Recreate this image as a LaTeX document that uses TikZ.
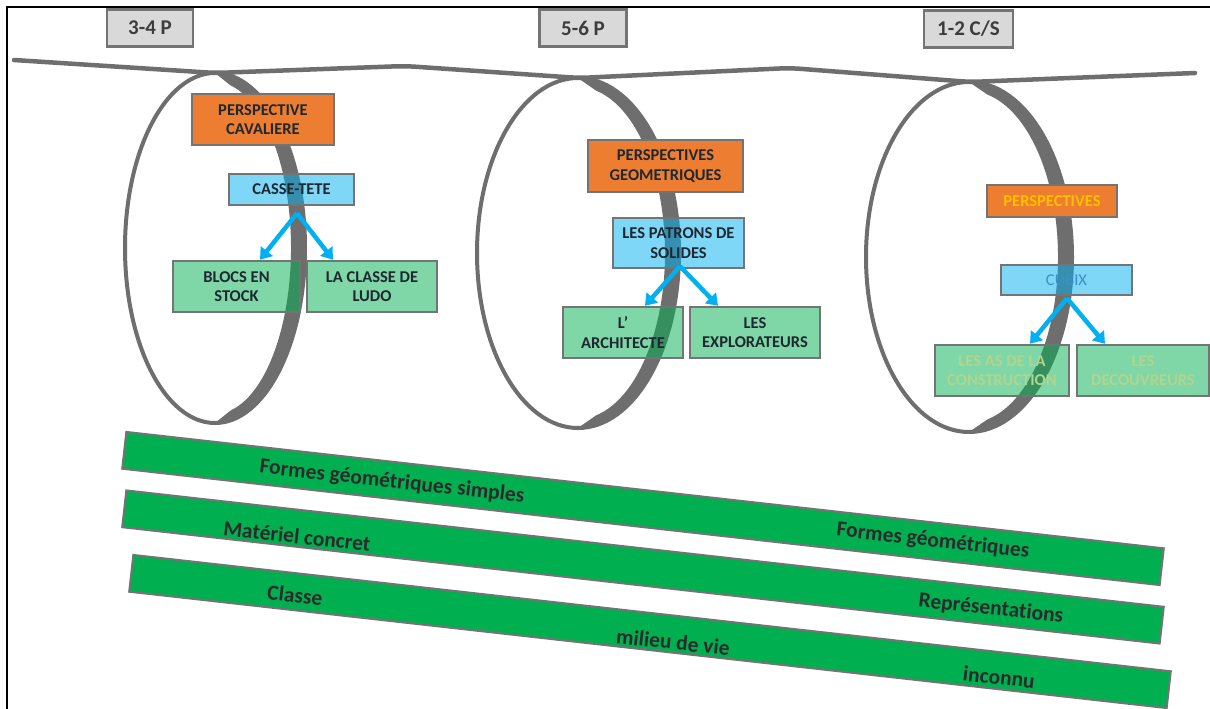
\documentclass[tikz,border=0pt]{standalone}
\usepackage{fontspec}
\setmainfont[Ligatures=NoCommon]{Carlito}
\usetikzlibrary{arrows.meta,calc}

\definecolor{ringgray}{HTML}{6E6E6E}
\definecolor{edgegray}{HTML}{747474}
\definecolor{headfill}{HTML}{D9D9D9}
\definecolor{headtext}{HTML}{3C3C3C}
\definecolor{orangefill}{HTML}{ED7D31}
\definecolor{skyblue}{HTML}{00B0F0}
\definecolor{leafgreen}{HTML}{00B050}
\definecolor{inktext}{HTML}{1F2830}
\definecolor{goldtext}{HTML}{FFC000}
\definecolor{cubixtext}{HTML}{3B8FC8}
\definecolor{palegreentext}{HTML}{B3D48C}
\definecolor{striptext}{HTML}{2B2B2B}

\begin{document}
\begin{tikzpicture}[x=1pt,y=-1pt,
  box/.style={draw=edgegray, line width=2.5pt, inner sep=0pt, align=center,
    font=\fontsize{16.5}{19.5}\selectfont\bfseries, text=inktext},
  orangebox/.style={box, fill=orangefill},
  bluebox/.style={box, fill=skyblue, fill opacity=0.5, text opacity=1},
  greenbox/.style={box, fill=leafgreen, fill opacity=0.5, text opacity=1},
  headbox/.style={draw=edgegray, line width=2.5pt, fill=headfill, inner sep=0pt,
    minimum height=37pt, font=\fontsize{21}{25}\selectfont\bfseries, text=headtext},
  strip/.style={draw=edgegray, line width=2pt, fill=leafgreen, rotate=-6.4,
    minimum width=1044pt, minimum height=37pt, inner sep=0pt},
  striplabel/.style={rotate=-6.4, font=\fontsize{21.5}{25}\selectfont\bfseries,
    text=striptext, inner sep=0pt},
  ring/.style={draw=ringgray, line width=4pt},
  twist/.style={fill=ringgray},
  arr/.style={draw=skyblue, line width=4.5pt, -{Triangle[width=15pt,length=11pt]}},
]
\useasboundingbox (0,0) rectangle (1210,709);
\fill[white] (0,0) rectangle (1210,709);

% frame edges
\draw[line width=2.2pt] (6,7) -- (1210,7);
\draw[line width=2.2pt] (7,6) -- (7,709);

% green strips with their labels
\node[strip] (s1) at (643,508.5) {};
\node[strip] (s2) at (643,567) {};
\node[strip] (s3) at (650,631.5) {};
\node[striplabel] (t11) at (392,482) {Formes géométriques simples};
\node[striplabel] (t12) at (933,541) {Formes géométriques};
\node[striplabel] (t21) at (297,536) {Matériel concret};
\node[striplabel] (t22) at (991,609) {Représentations};
\node[striplabel] (t31) at (295,595) {Classe};
\node[striplabel] (t32) at (673,642) {milieu de vie};
\node[striplabel] (t33) at (999,677) {inconnu};

% the long wavy cord
\draw[ringgray, line width=4.5pt, line cap=round, line join=round, rounded corners=10pt]
  (14,60) -- (215,73) -- (405,66) -- (579,78) -- (790,68) -- (970,82) -- (1195,73);

% the three twisted rings: thin outline plus the broad side of the band
\coordinate (c1) at (215,248);
\coordinate (c2) at (578,253);
\coordinate (c3) at (969,257);
\draw[ring] (c1) ellipse [x radius=90, y radius=175];
\fill[twist] (215,73) arc[start angle=-90, end angle=90, x radius=90, y radius=175]
  -- ($(c1)+(78:76 and 166)$) arc[start angle=78, end angle=-78, x radius=76, y radius=166] -- cycle;
\draw[ring] (c2) ellipse [x radius=101, y radius=175];
\fill[twist] (578,78) arc[start angle=-90, end angle=90, x radius=101, y radius=175]
  -- ($(c2)+(78:87 and 166)$) arc[start angle=78, end angle=-78, x radius=87, y radius=166] -- cycle;
\draw[ring] (c3) ellipse [x radius=103, y radius=175];
\fill[twist] (969,82) arc[start angle=-90, end angle=90, x radius=103, y radius=175]
  -- ($(c3)+(78:89 and 166)$) arc[start angle=78, end angle=-78, x radius=89, y radius=166] -- cycle;

% first ring
\node[orangebox, minimum width=142pt, minimum height=51pt] (pc) at (263,119.5) {PERSPECTIVE\\CAVALIERE};
\node[bluebox, minimum width=125pt, minimum height=31pt] (ct) at (291.5,189.5) {CASSE-TETE};
\node[greenbox, minimum width=127pt, minimum height=51pt] (bs) at (236.5,286.5) {BLOCS EN\\STOCK};
\node[greenbox, minimum width=130pt, minimum height=51pt] (lc) at (372,286.5) {LA CLASSE DE\\LUDO};

% second ring
\node[orangebox, minimum width=155pt, minimum height=52pt] (pg) at (665.5,166) {PERSPECTIVES\\GEOMETRIQUES};
\node[bluebox, minimum width=131pt, minimum height=50pt] (ps) at (678.5,243) {LES PATRONS DE\\SOLIDES};
\node[greenbox, minimum width=120pt, minimum height=51pt] (la) at (623,332.5) {L'\\ARCHITECTE};
\node[greenbox, minimum width=130pt, minimum height=51pt] (le) at (755,332.5) {LES\\EXPLORATEURS};

% third ring
\node[orangebox, minimum width=130pt, minimum height=32pt, text=goldtext] (p3) at (1052,201) {PERSPECTIVES};
\node[bluebox, minimum width=131pt, minimum height=30pt, text=cubixtext, font=\fontsize{16.5}{19.5}\selectfont] (cx) at (1066.5,280) {CUBIX};
\node[greenbox, minimum width=134pt, minimum height=51pt, text=palegreentext] (lac) at (1002,370.5) {LES AS DE LA\\CONSTRUCTION};
\node[greenbox, minimum width=132pt, minimum height=51pt, text=palegreentext] (ld) at (1143,370.5) {LES\\DECOUVREURS};

% branching arrows
\coordinate (o1) at ($(ct.south)+(5.5,7)$);
\draw[arr] (o1) -- ($(bs.north)+(23.5,0)$);
\draw[arr] (o1) -- ($(lc.north)+(-39,0)$);
\coordinate (o2) at ($(ps.south)+(1.5,-3)$);
\draw[arr] (o2) -- ($(la.north)+(22,0)$);
\draw[arr] (o2) -- ($(le.north)+(-37,0)$);
\coordinate (o3) at ($(cx.south)+(0.5,2)$);
\draw[arr] (o3) -- ($(lac.north)+(28,0)$);
\draw[arr] (o3) -- ($(ld.north)+(-38,0)$);

% level headings
\node[headbox, minimum width=86pt] (h1) at (150,28) {3-4 P};
\node[headbox, minimum width=87pt] (h2) at (583,28) {5-6 P};
\node[headbox, minimum width=89pt] (h3) at (968.5,29) {1-2 C/S};
\end{tikzpicture}
\end{document}
